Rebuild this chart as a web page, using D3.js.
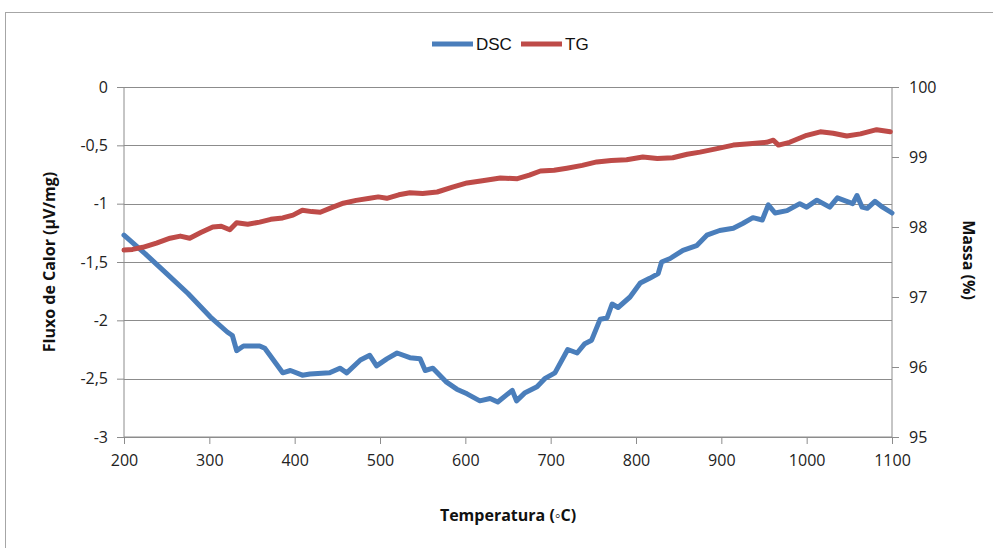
<!DOCTYPE html>
<html><head><meta charset="utf-8">
<script src="https://cdn.jsdelivr.net/npm/d3@7"></script>
<style>
html,body{margin:0;padding:0;background:#fff;}
svg text{font-family:"Open Sans","Liberation Sans",sans-serif;}
</style></head>
<body><svg id="c" width="993" height="548"></svg>
<script>
const xTicks = [200,300,400,500,600,700,800,900,1000,1100];
const yLeftTicks = [0,-0.5,-1,-1.5,-2,-2.5,-3];
const yRightTicks = [100,99,98,97,96,95];
const seriesNames = ["DSC","TG"];
const dscT = [200,225,250,275,301,321,327,332,340,359,365,386,395,409,418,441,453,461,477,488,496,508,520,535,547,553,562,578,590,602,617,629,638,655,660,670,684,693,705,720,731,740,748,758,766,772,779,793,805,816,826,830,840,855,871,883,898,914,925,937,948,955,963,977,992,1000,1012,1027,1036,1047,1054,1059,1065,1071,1080,1089,1100];
const dscV = [-1.27,-1.43,-1.60,-1.77,-1.97,-2.10,-2.13,-2.26,-2.22,-2.22,-2.24,-2.45,-2.43,-2.47,-2.46,-2.45,-2.41,-2.45,-2.34,-2.30,-2.39,-2.33,-2.28,-2.32,-2.33,-2.43,-2.41,-2.53,-2.59,-2.63,-2.69,-2.67,-2.70,-2.60,-2.69,-2.62,-2.57,-2.50,-2.45,-2.25,-2.28,-2.20,-2.17,-1.99,-1.98,-1.86,-1.89,-1.80,-1.68,-1.64,-1.60,-1.50,-1.47,-1.40,-1.36,-1.27,-1.23,-1.21,-1.17,-1.12,-1.14,-1.01,-1.08,-1.06,-1.00,-1.03,-0.97,-1.03,-0.95,-0.98,-1.00,-0.93,-1.03,-1.04,-0.98,-1.03,-1.08];
const tgT = [200,210,222,238,254,266,277,290,304,314,324,332,345,359,372,386,398,409,420,430,444,457,472,488,498,508,522,535,550,567,585,602,620,641,661,675,688,704,719,737,754,771,789,808,825,843,860,875,895,914,933,953,961,967,980,1000,1016,1031,1047,1063,1082,1098];
const tgM = [97.67,97.68,97.71,97.77,97.84,97.87,97.84,97.92,98.00,98.01,97.96,98.06,98.04,98.07,98.11,98.13,98.17,98.24,98.22,98.21,98.28,98.34,98.38,98.41,98.43,98.41,98.46,98.49,98.48,98.50,98.57,98.63,98.66,98.70,98.69,98.74,98.80,98.81,98.84,98.88,98.93,98.95,98.96,99.00,98.98,98.99,99.04,99.07,99.12,99.17,99.19,99.21,99.24,99.17,99.21,99.31,99.36,99.34,99.30,99.33,99.39,99.36];

const colors = {DSC:"#4a7ebb", TG:"#be4b48"};
const svg = d3.select("#c");
const L=124,R=892,T=87,B=437;
const x = d3.scaleLinear().domain([200,1100]).range([L,R]);
const yL = d3.scaleLinear().domain([-3,0]).range([B,T]);
const yR = d3.scaleLinear().domain([95,100]).range([B,T]);

svg.append("rect").attr("x",5.5).attr("y",12.5).attr("width",1000).attr("height",600)
  .attr("fill","#fff").attr("stroke","#a6a6a6");

svg.append("g").selectAll("line").data(yLeftTicks).join("line")
  .attr("x1",L).attr("x2",R).attr("y1",d=>Math.round(yL(d))+0.5).attr("y2",d=>Math.round(yL(d))+0.5)
  .attr("stroke","#8c8c8c").attr("stroke-width",1);

const fmt = d=>String(d).replace(".",",");
const gl = svg.append("g").attr("transform",`translate(${L},0)`)
  .call(d3.axisLeft(yL).tickValues(yLeftTicks).tickFormat(fmt).tickSize(7).tickPadding(9));
const gr = svg.append("g").attr("transform",`translate(${R},0)`)
  .call(d3.axisRight(yR).tickValues(yRightTicks).tickFormat(d=>String(d)).tickSize(7).tickPadding(10));
const gb = svg.append("g").attr("transform",`translate(0,${B})`)
  .call(d3.axisBottom(x).tickValues(xTicks).tickFormat(d=>String(d)).tickSize(7).tickPadding(11));
[gl,gr,gb].forEach(g=>{
  g.selectAll("path,line").attr("stroke","#8c8c8c");
  g.selectAll("text").attr("fill","#222").style("font-size","16px");
});
gl.select(".domain").attr("d",`M0,${T}V${B}`);
gr.select(".domain").attr("d",`M0,${T}V${B}`);
gb.select(".domain").attr("d",`M${L},0H${R}`);

const lineL = d3.line().x(d=>x(d[0])).y(d=>yL(d[1]));
const lineR = d3.line().x(d=>x(d[0])).y(d=>yR(d[1]));
svg.append("path").datum(dscT.map((t,i)=>[t,dscV[i]])).attr("d",lineL)
  .attr("fill","none").attr("stroke",colors.DSC).attr("stroke-width",5).attr("stroke-linejoin","round").attr("stroke-linecap","round");
svg.append("path").datum(tgT.map((t,i)=>[t,tgM[i]])).attr("d",lineR)
  .attr("fill","none").attr("stroke",colors.TG).attr("stroke-width",5).attr("stroke-linejoin","round").attr("stroke-linecap","round");

svg.append("text").attr("transform","translate(55,262) rotate(-90)").attr("text-anchor","middle")
  .style("font-size","16px").style("font-weight","bold").attr("fill","#111").text("Fluxo de Calor (µV/mg)");
svg.append("text").attr("transform","translate(963,260) rotate(90)").attr("text-anchor","middle")
  .style("font-size","16px").style("font-weight","bold").attr("fill","#111").text("Massa (%)");
svg.append("text").attr("x",508).attr("y",521).attr("text-anchor","middle")
  .style("font-size","16px").style("font-weight","bold").attr("fill","#111").text("Temperatura (◦C)");

const leg = [{n:"DSC",x:432},{n:"TG",x:521}];
leg.forEach(l=>{
  svg.append("line").attr("x1",l.x).attr("x2",l.x+41).attr("y1",44).attr("y2",44)
    .attr("stroke",colors[l.n]).attr("stroke-width",5);
  svg.append("text").attr("x",l.x+44).attr("y",50).style("font-size","17px")
    .style("font-family","'Liberation Sans Narrow','Liberation Sans',sans-serif").attr("fill","#111").text(l.n);
});
</script></body></html>
